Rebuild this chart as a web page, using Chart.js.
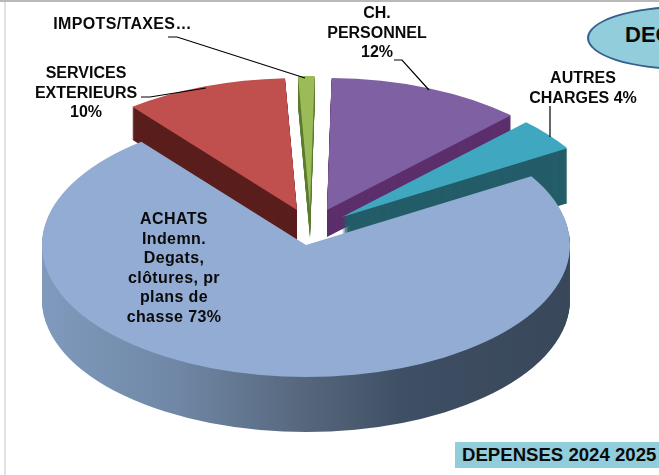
<!DOCTYPE html>
<html lang="fr">
<head>
<meta charset="utf-8">
<title>Dépenses 2024 2025</title>
<script src="https://cdn.jsdelivr.net/npm/chart.js@4"></script>
<style>
  html, body { margin: 0; padding: 0; background: #fff; overflow: hidden; }
  #stage { position: relative; width: 659px; height: 475px; overflow: hidden; font-family: "Liberation Sans", Arial, sans-serif; color: #0a0a0a; }
  #chart { position: absolute; left: 0; top: 0; width: 659px; height: 475px; }
  #topline { position: absolute; left: 0; top: 0; width: 659px; height: 2px; background: #b9b9b9; }
  #leftline { position: absolute; left: 4px; top: 2px; width: 2px; height: 473px; background: #e2e2e2; }
  .lbl { position: absolute; font-weight: bold; font-size: 16px; line-height: 19.5px; text-align: center; white-space: nowrap; transform: translateX(-50%); }
  #oval { position: absolute; left: 587px; top: 6px; width: 190px; height: 60px; border: 2px solid #33608f; border-radius: 50%; background: #92cddc; box-sizing: content-box; }
  #ovalText { position: absolute; left: 625px; top: 22px; font-weight: bold; font-size: 22px; line-height: 26px; white-space: nowrap; }
  #box { position: absolute; left: 455px; top: 442px; width: 204px; height: 26px; background: #92cddc; font-weight: bold; font-size: 18.6px; line-height: 26px; padding-left: 7px; box-sizing: border-box; white-space: nowrap; overflow: hidden; }
</style>
</head>
<body>
<div id="stage">
  <canvas id="chart" width="659" height="475"></canvas>
  <div id="topline"></div>
  <div id="leftline"></div>
  <div id="oval"></div>
  <div id="ovalText"></div>
  <div id="box"></div>
</div>
<script>
// ---- data ----
const categories = ["CH. PERSONNEL", "AUTRES CHARGES", "ACHATS Indemn. Degats, clôtures, pr plans de chasse", "SERVICES EXTERIEURS", "IMPOTS/TAXES…"];
const shares = [12, 4, 73, 10, 1];
const sliceLabels = [
  ["CH.", "PERSONNEL", "12%"],
  ["AUTRES", "CHARGES 4%"],
  ["ACHATS", "Indemn.", "Degats,", "clôtures, pr", "plans de", "chasse 73%"],
  ["SERVICES", "EXTERIEURS", "10%"],
  ["IMPOTS/TAXES…"]
];
const badgeText = "DEC";
const footerText = "DEPENSES 2024 2025";

// ---- styles ----
const topColors = ["#7f60a3", "#3fa8c0", "#92acd3", "#bf504d", "#9bbb59"];
const sideColors = ["#5c2f6c", "#245d69", null, "#5a1e1c", "#5f7d33"];
const sideDepths = [27, 55, 55, 33, 30];
const sliceShiftX = [21, 36, 0, -9, 4];
const sliceShiftY = [-35, -28, 0, -35, -37];
const drawOrder = [0, 4, 3, 1, 2];
const squash = 0.5;
const pieCentreX = 306;
const pieCentreY = 245;
const labelCentres = [[377, 3], [583, 68], [174, 209], [86, 63], [122.5, 14]];
const labelSpacing = [0, 0, 0.4, 0, 0.35];
const leaderPaths = [
  [[394, 60], [402, 60], [429, 90]],
  [[550, 106], [550, 137]],
  [],
  [[141, 97], [150, 97], [206, 88]],
  [[168, 37], [177, 37], [305, 78]]
];

const stage = document.getElementById("stage");
sliceLabels.forEach((lines, i) => {
  const d = document.createElement("div");
  d.className = "lbl";
  d.style.left = labelCentres[i][0] + "px";
  d.style.top = labelCentres[i][1] + "px";
  d.style.letterSpacing = labelSpacing[i] + "px";
  d.innerHTML = lines.join("<br>");
  stage.appendChild(d);
});
document.getElementById("ovalText").textContent = badgeText;
document.getElementById("box").textContent = footerText;

const pie3d = {
  id: "pie3d",
  beforeDatasetDraw(chart) {
    const ctx = chart.ctx;
    const arcs = chart.getDatasetMeta(0).data;
    const grad = ctx.createLinearGradient(42, 0, 569, 0);
    grad.addColorStop(0, "#7f9abd");
    grad.addColorStop(0.25, "#7088a6");
    grad.addColorStop(0.5, "#56667c");
    grad.addColorStop(0.68, "#3f4f64");
    grad.addColorStop(1, "#384759");
    drawOrder.forEach(i => {
      const el = arcs[i];
      const base = el.options;
      const place = dy => {
        ctx.save();
        ctx.translate(pieCentreX + sliceShiftX[i], pieCentreY + sliceShiftY[i] + dy);
        ctx.scale(1, squash);
        ctx.translate(-el.x, -el.y);
      };
      el.options = { ...base, backgroundColor: sideColors[i] || grad };
      for (let d = sideDepths[i]; d >= 1; d--) {
        place(d);
        el.draw(ctx);
        ctx.restore();
      }
      el.options = base;
      place(0);
      el.draw(ctx);
      ctx.restore();
    });
    return false;
  },
  afterDatasetsDraw(chart) {
    const ctx = chart.ctx;
    ctx.save();
    ctx.strokeStyle = "#000";
    ctx.lineWidth = 1.2;
    leaderPaths.forEach(p => {
      if (!p.length) return;
      ctx.beginPath();
      p.forEach((pt, k) => k ? ctx.lineTo(pt[0], pt[1]) : ctx.moveTo(pt[0], pt[1]));
      ctx.stroke();
    });
    ctx.restore();
  }
};

new Chart(document.getElementById("chart"), {
  type: "pie",
  data: {
    labels: categories,
    datasets: [{ data: shares, backgroundColor: topColors, borderWidth: 0, radius: 264 }]
  },
  options: {
    responsive: false,
    animation: false,
    rotation: 1,
    events: [],
    layout: { padding: { left: 0, right: 47, top: -60, bottom: -75 } },
    plugins: { legend: { display: false }, tooltip: { enabled: false }, title: { display: false } }
  },
  plugins: [pie3d]
});
</script>
</body>
</html>
